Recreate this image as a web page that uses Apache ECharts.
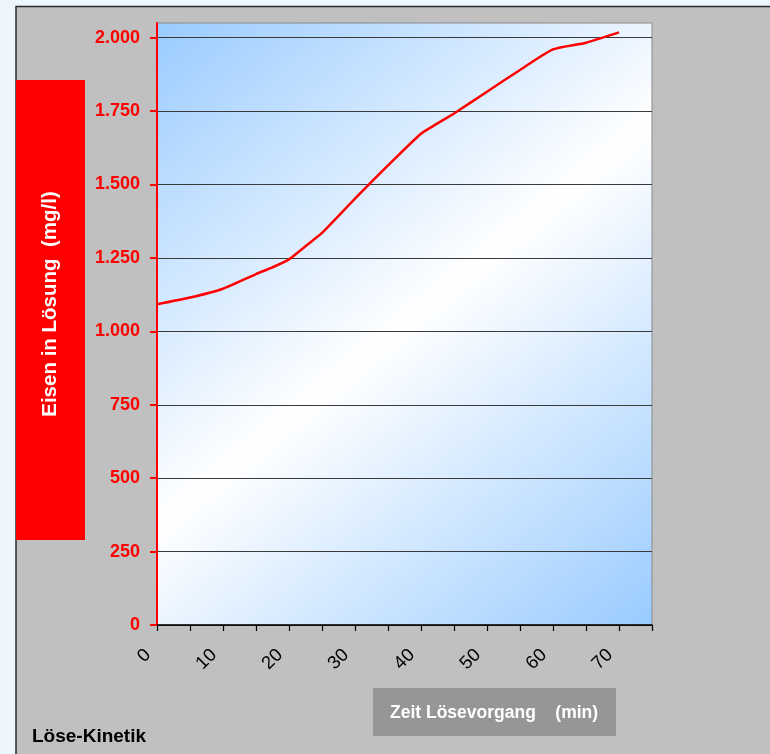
<!DOCTYPE html>
<html>
<head>
<meta charset="utf-8">
<script src="https://cdn.jsdelivr.net/npm/echarts@6/dist/echarts.min.js"></script>
<style>
  html, body { margin: 0; padding: 0; background: #eef6fd; }
  #chart { width: 770px; height: 754px; }
</style>
</head>
<body>
<div id="chart"></div>
<script>
// Dissolution kinetics: iron in solution over time
const timeMin = [0, 5, 10, 15, 17.5, 20, 22.5, 25, 30, 35, 40, 42.5, 45, 50, 55, 60, 65, 70];
const ironMgL = [1092, 1115, 1145, 1195, 1218, 1245, 1290, 1335, 1452, 1565, 1673, 1708, 1742, 1816, 1890, 1960, 1983, 2018];
const yTickValues = [0, 250, 500, 750, 1000, 1250, 1500, 1750, 2000];
const xLabelValues = [0, 10, 20, 30, 40, 50, 60, 70];

const yAxisTitle = 'Eisen in Lösung  (mg/l)';
const xAxisTitle = 'Zeit Lösevorgang    (min)';
const chartTitle = 'Löse-Kinetik';

const FONT = '"Liberation Sans", Arial, sans-serif';

function thousands(v) {
  return String(v).replace(/\B(?=(\d{3})+(?!\d))/g, '.');
}

const chart = echarts.init(document.getElementById('chart'), null, { renderer: 'canvas' });

chart.setOption({
  animation: false,
  backgroundColor: 'transparent',
  graphic: [
    {
      type: 'rect', z: -10, silent: true,
      shape: { x: 16, y: 6.5, width: 780, height: 780 },
      style: { fill: '#c0c0c0', stroke: '#2a2a2a', lineWidth: 1.5 }
    },
    {
      type: 'rect', z: 1, silent: true,
      shape: { x: 16, y: 80, width: 69, height: 460 },
      style: { fill: '#ff0000' }
    },
    {
      type: 'text', z: 2, silent: true,
      x: 50, y: 304, rotation: Math.PI / 2,
      style: {
        text: yAxisTitle, fill: '#ffffff', font: 'bold 20.5px ' + FONT,
        align: 'center', verticalAlign: 'middle'
      }
    },
    {
      type: 'rect', z: 1, silent: true,
      shape: { x: 373, y: 688, width: 243, height: 48 },
      style: { fill: '#969696' }
    },
    {
      type: 'text', z: 2, silent: true,
      x: 390, y: 713,
      style: {
        text: xAxisTitle, fill: '#ffffff', font: 'bold 17.5px ' + FONT,
        align: 'left', verticalAlign: 'middle'
      }
    },
    {
      type: 'text', z: 2, silent: true,
      x: 32, y: 737,
      style: {
        text: chartTitle, fill: '#000000', font: 'bold 19px ' + FONT,
        align: 'left', verticalAlign: 'middle'
      }
    }
  ],
  grid: {
    left: 157, top: 23, width: 495, height: 602,
    show: true,
    borderColor: '#8a8a8a', borderWidth: 1,
    backgroundColor: new echarts.graphic.LinearGradient(0, 0, 1, 1, [
      { offset: 0, color: '#99cbff' },
      { offset: 0.5, color: '#ffffff' },
      { offset: 1, color: '#99cbff' }
    ])
  },
  xAxis: {
    type: 'value', min: 0, max: 75, interval: 5,
    axisLine: { show: true, onZero: false, lineStyle: { color: '#000000', width: 1.5 } },
    axisTick: { show: true, length: 6, lineStyle: { color: '#000000', width: 1.2 } },
    splitLine: { show: false },
    axisLabel: {
      customValues: xLabelValues,
      rotate: 45, margin: 18,
      padding: [0, 13, 0, 0],
      color: '#000000', fontSize: 18.5, fontFamily: FONT
    }
  },
  yAxis: {
    type: 'value', min: 0, max: 2050, interval: 250,
    axisLine: { show: true, lineStyle: { color: '#ff0000', width: 2 } },
    axisTick: { show: true, length: 7, customValues: yTickValues, lineStyle: { color: '#ff0000', width: 2 } },
    splitLine: { show: true, lineStyle: { color: '#3a3a3a', width: 1 } },
    axisLabel: {
      customValues: yTickValues,
      margin: 17,
      formatter: thousands,
      color: '#ff0000', fontSize: 18, fontWeight: 'bold', fontFamily: FONT
    }
  },
  series: [
    {
      type: 'line',
      data: timeMin.map((t, i) => [t, ironMgL[i]]),
      showSymbol: false,
      smooth: 0.2,
      lineStyle: { color: '#ff0000', width: 2.5 },
      z: 5
    }
  ]
});
</script>
</body>
</html>
